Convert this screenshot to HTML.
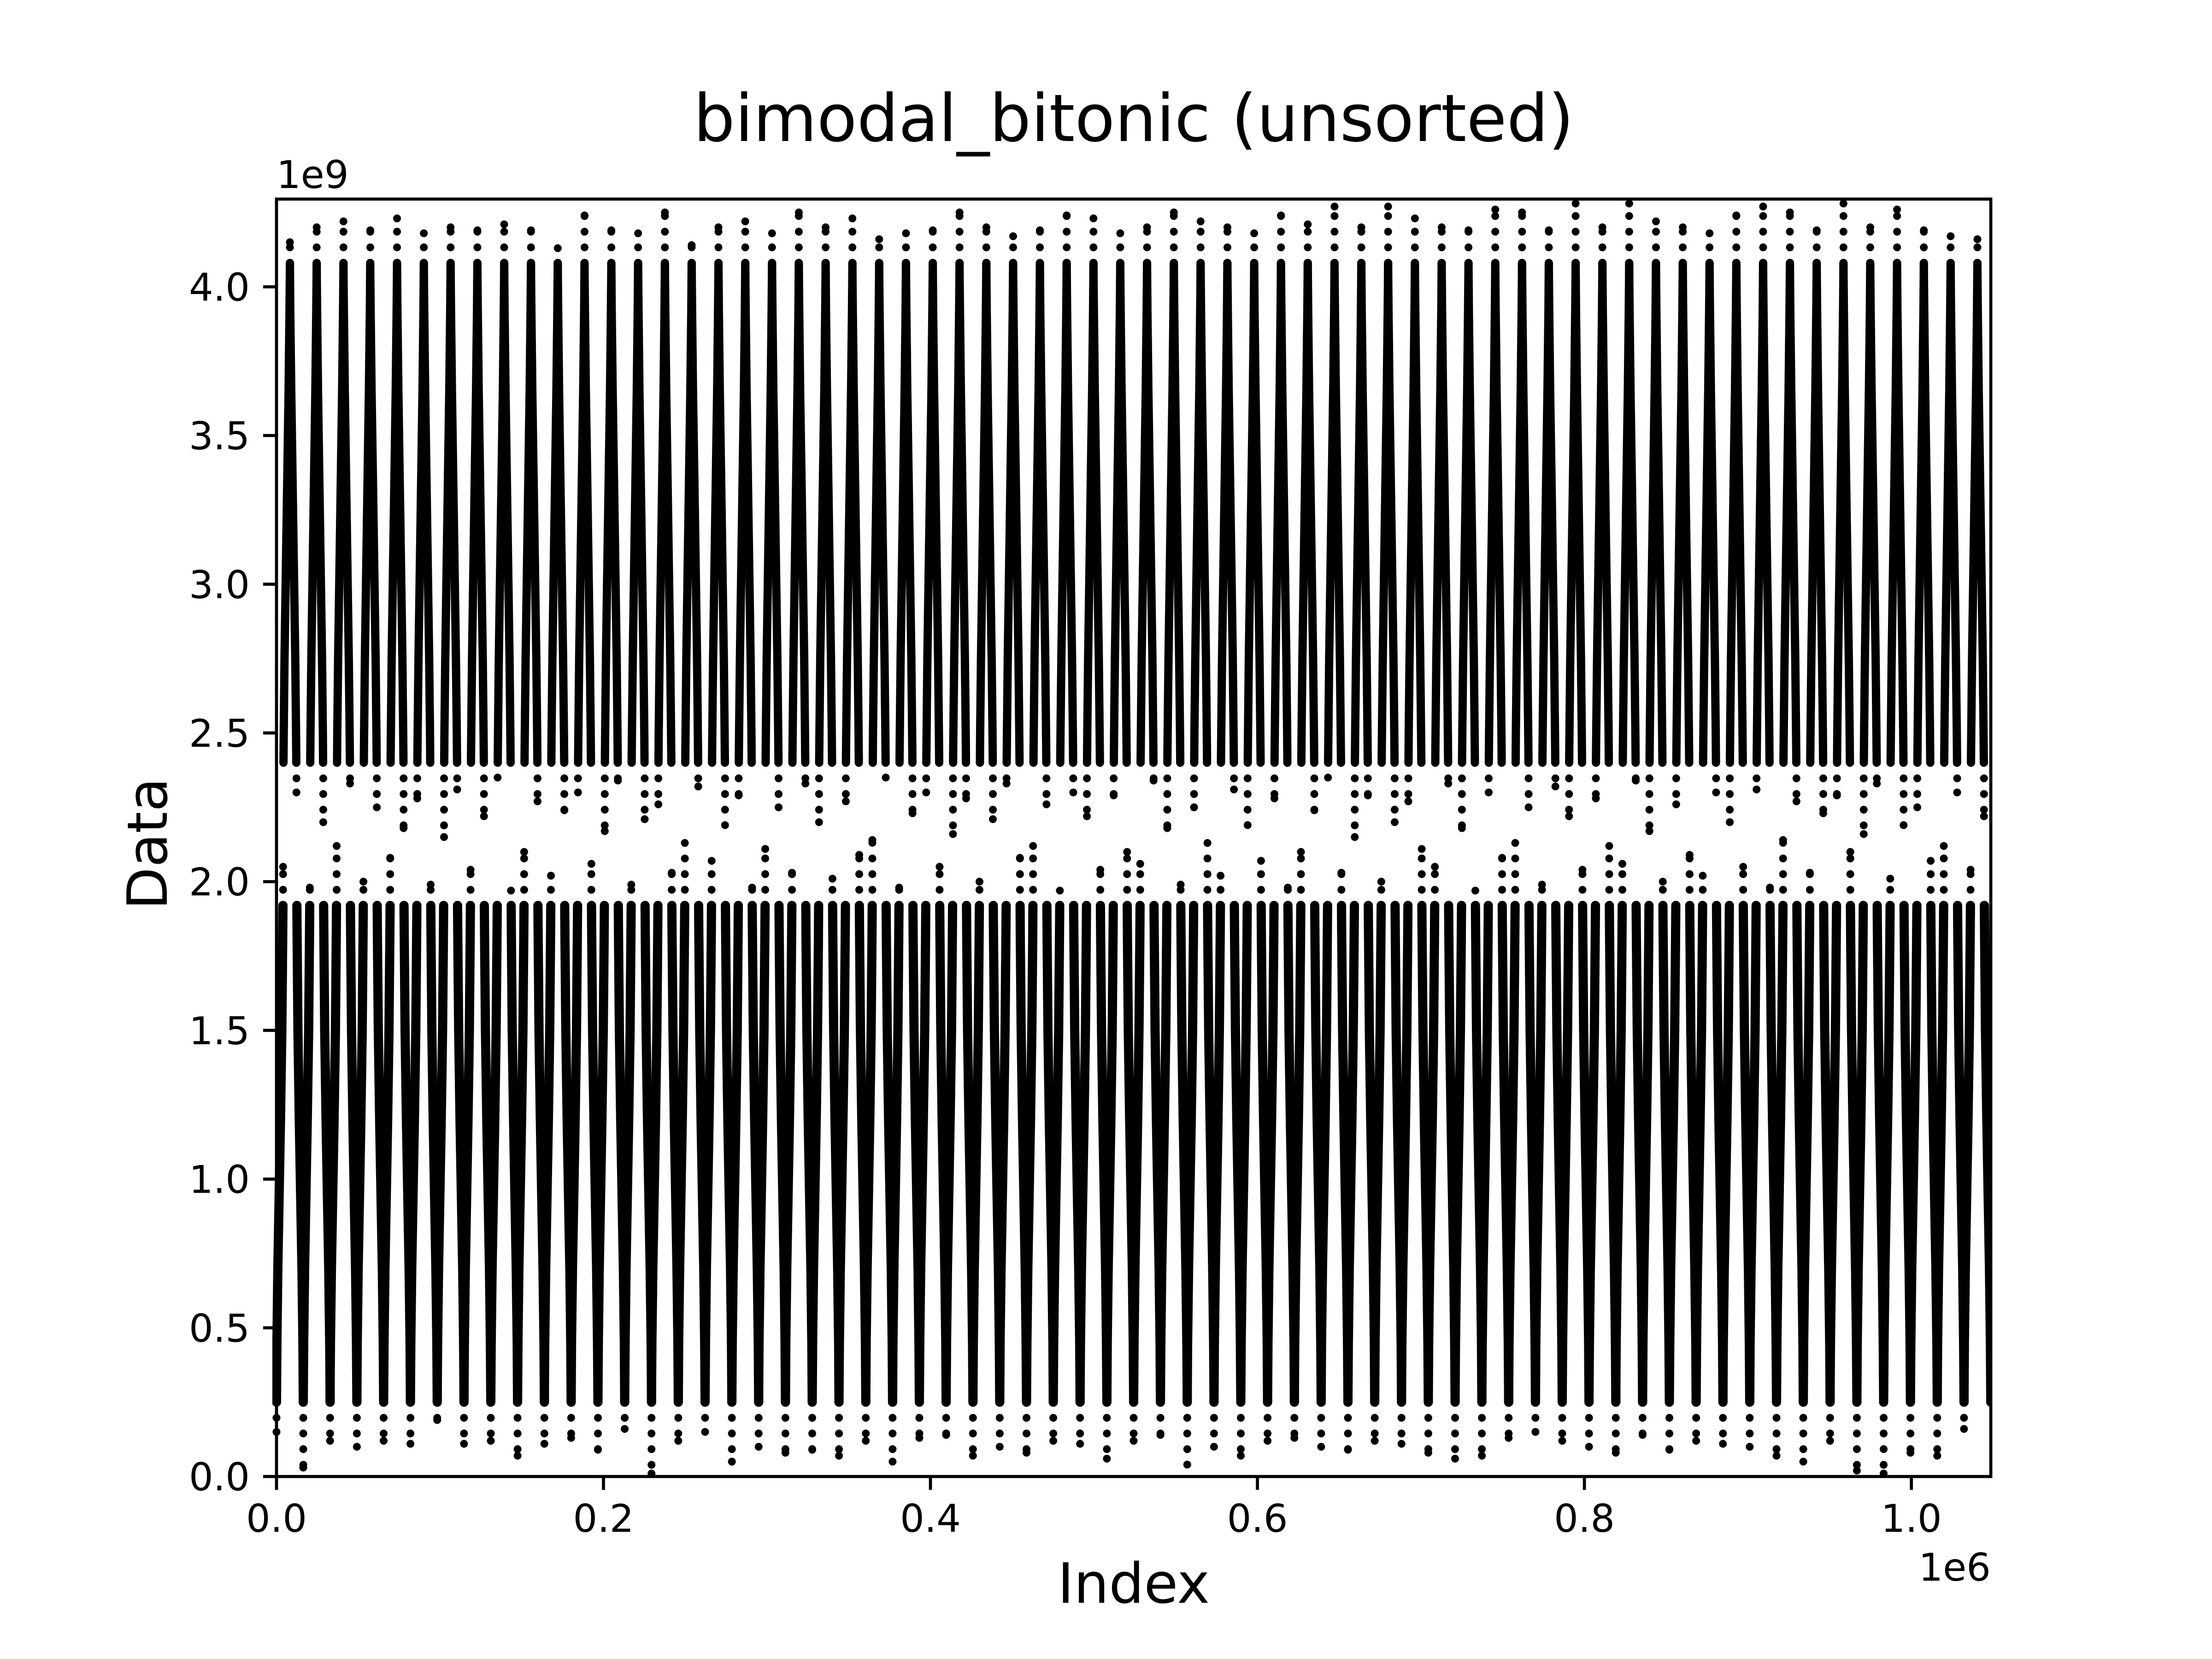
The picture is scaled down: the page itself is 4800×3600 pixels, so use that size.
<!DOCTYPE html>
<html><head><meta charset="utf-8">
<style>
html,body{margin:0;padding:0;background:#fff;}
svg{display:block;}
text{font-family:"DejaVu Sans","Liberation Sans",sans-serif;fill:#000;}
</style></head>
<body>
<svg id="chart" width="4800" height="3600" viewBox="0 0 4800 3600" xmlns="http://www.w3.org/2000/svg">
<rect x="0" y="0" width="4800" height="3600" fill="#fff"/>
<g id="plot"></g>
<g id="axes"></g>
<text x="2460" y="306" font-size="142" text-anchor="middle">bimodal_bitonic (unsorted)</text>
<text x="2460" y="3478" font-size="120" text-anchor="middle">Index</text>
<text transform="translate(362,1831) rotate(-90)" font-size="120" text-anchor="middle">Data</text>
<text x="600" y="408" font-size="83">1e9</text>
<text x="4320" y="3430" font-size="83" text-anchor="end">1e6</text>
</svg>
<script>
// ---- data ----
const periodCount = 64;
const periodLen = 16384;
const xMax = 1048576;
const yMax = 4294967296;
// quantile of the bimodal distribution within one half-period (t = fraction, v = value in 1e9)
const lowerT = [0, 0.01, 0.03, 0.1, 0.2, 0.3, 0.4, 0.46, 0.48];
const lowerV = [0.25, 0.32, 0.45, 0.7, 0.95, 1.2, 1.5, 1.8, 1.92];
const upperT = [0.52, 0.54, 0.6, 0.7, 0.8, 0.9, 0.97, 0.99, 1];
const upperV = [2.4, 2.5, 2.75, 3.05, 3.35, 3.65, 3.92, 4.02, 4.08];
// per-period sparse outliers (1e9)
const topOutliers = [4.15,4.2,4.22,4.19,4.23,4.18,4.2,4.19,4.21,4.19,4.13,4.24,4.19,4.18,4.25,4.14,4.2,4.22,4.18,4.25,4.2,4.23,4.16,4.18,4.19,4.25,4.2,4.17,4.19,4.24,4.23,4.18,4.2,4.25,4.22,4.2,4.18,4.24,4.21,4.27,4.2,4.27,4.23,4.2,4.19,4.26,4.25,4.19,4.28,4.2,4.28,4.22,4.2,4.18,4.24,4.27,4.25,4.19,4.28,4.2,4.26,4.19,4.17,4.16];
const bottomOutliers = [0.15,0.03,0.12,0.1,0.12,0.11,0.19,0.11,0.12,0.07,0.11,0.13,0.09,0.16,0.01,0.12,0.15,0.05,0.1,0.08,0.09,0.07,0.12,0.05,0.13,0.14,0.07,0.1,0.08,0.12,0.11,0.06,0.12,0.14,0.04,0.1,0.07,0.12,0.13,0.1,0.09,0.12,0.11,0.08,0.06,0.07,0.13,0.15,0.12,0.1,0.08,0.14,0.09,0.12,0.11,0.1,0.07,0.05,0.12,0.02,0.01,0.08,0.07,0.16];
// gap dots: [period, side (0 ascending / 1 descending), value 1e9]
const gapDots = [
[0,0,2.05],[0,1,2.3],[1,0,1.98],[1,1,2.2],[2,0,2.12],[2,1,2.33],[3,0,2.0],[3,1,2.25],[4,0,2.08],[4,1,2.18],
[5,0,2.28],[5,1,1.99],[6,0,2.15],[6,1,2.31],[7,0,2.04],[7,1,2.22],[8,0,2.35],[8,1,1.97],[9,0,2.1],[9,1,2.27],
[10,0,2.02],[10,1,2.24],[11,0,2.3],[11,1,2.06],[12,0,2.17],[12,1,2.34],[13,0,1.99],[13,1,2.21],[14,0,2.26],[14,1,2.03],
[15,0,2.13],[15,1,2.32],[16,0,2.07],[16,1,2.19],[17,0,2.29],[17,1,1.98],[18,0,2.11],[18,1,2.25],[19,0,2.03],[19,1,2.33],
[20,0,2.2],[20,1,2.01],[21,0,2.27],[21,1,2.09],[22,0,2.14],[22,1,2.35],[23,0,1.98],[23,1,2.23],[24,0,2.3],[24,1,2.05],
[25,0,2.16],[25,1,2.28],[26,0,2.0],[26,1,2.21],[27,0,2.33],[27,1,2.08],[28,0,2.12],[28,1,2.26],[29,0,1.97],[29,1,2.3],
[30,0,2.22],[30,1,2.04],[31,0,2.29],[31,1,2.1],[32,0,2.06],[32,1,2.34],[33,0,2.18],[33,1,1.99],[34,0,2.25],[34,1,2.13],
[35,0,2.02],[35,1,2.31],[36,0,2.19],[36,1,2.07],[37,0,2.28],[37,1,1.98],[38,0,2.1],[38,1,2.24],[39,0,2.35],[39,1,2.03],
[40,0,2.15],[40,1,2.29],[41,0,2.0],[41,1,2.2],[42,0,2.27],[42,1,2.11],[43,0,2.05],[43,1,2.33],[44,0,2.18],[44,1,1.97],
[45,0,2.3],[45,1,2.08],[46,0,2.13],[46,1,2.25],[47,0,1.99],[47,1,2.32],[48,0,2.22],[48,1,2.04],[49,0,2.28],[49,1,2.12],
[50,0,2.06],[50,1,2.34],[51,0,2.17],[51,1,2.0],[52,0,2.26],[52,1,2.09],[53,0,2.02],[53,1,2.3],[54,0,2.2],[54,1,2.05],
[55,0,2.31],[55,1,1.98],[56,0,2.14],[56,1,2.27],[57,0,2.03],[57,1,2.23],[58,0,2.29],[58,1,2.1],[59,0,2.16],[59,1,2.33],
[60,0,2.01],[60,1,2.19],[61,0,2.25],[61,1,2.07],[62,0,2.12],[62,1,2.3],[63,0,2.04],[63,1,2.22]
];
const xTicks = [0, 0.2, 0.4, 0.6, 0.8, 1.0];
const xTickLabels = ["0.0","0.2","0.4","0.6","0.8","1.0"];
const yTicks = [0, 0.5, 1.0, 1.5, 2.0, 2.5, 3.0, 3.5, 4.0];
const yTickLabels = ["0.0","0.5","1.0","1.5","2.0","2.5","3.0","3.5","4.0"];

// ---- layout ----
const L = 600, R = 4320, T = 432, B = 3204;
const NS = "http://www.w3.org/2000/svg";
function sx(i){ return L + (i / xMax) * (R - L); }
function sy(v){ return B - (v * 1e9 / yMax) * (B - T); }
const plot = document.getElementById('plot');
const axes = document.getElementById('axes');
function mk(tag, attrs, parent){
  const e = document.createElementNS(NS, tag);
  for (const k in attrs) e.setAttribute(k, attrs[k]);
  parent.appendChild(e);
  return e;
}
const clip = mk('clipPath', {id:'clipArea'}, document.getElementById('chart'));
mk('rect', {x:L-9, y:T, width:R-L+9, height:B-T+9}, clip);
plot.setAttribute('clip-path', 'url(#clipArea)');

const dotted = {fill:'none', stroke:'#000', 'stroke-width':17, 'stroke-linecap':'round', 'stroke-dasharray':'0 34'};
for (let k = 0; k < periodCount; k++) {
  const base = k * periodLen;
  const half = periodLen / 2;
  [[lowerT, lowerV, 'lower', 20], [upperT, upperV, 'upper', 18]].forEach(([ts, vs, nm, sw]) => {
    let asc = [], desc = [];
    for (let j = 0; j < ts.length; j++) {
      asc.push(sx(base + ts[j] * half).toFixed(1) + ',' + sy(vs[j]).toFixed(1));
      desc.push(sx(base + periodLen - ts[j] * half).toFixed(1) + ',' + sy(vs[j]).toFixed(1));
    }
    const pa = mk('polyline', {points: asc.join(' '), fill:'none', stroke:'#000', 'stroke-width':sw, 'stroke-linecap':'round', 'stroke-linejoin':'round'}, plot);
    
    
    const pd = mk('polyline', {points: desc.reverse().join(' '), fill:'none', stroke:'#000', 'stroke-width':sw, 'stroke-linecap':'round', 'stroke-linejoin':'round'}, plot);
    
    
  });
  const xPeak = sx(base + half);
  const tt = mk('line', Object.assign({x1:xPeak, x2:xPeak, y1:sy(upperV[upperV.length-1]), y2:sy(topOutliers[k])}, dotted), plot);
  
  
  const xv = sx(base);
  const bt = mk('line', Object.assign({x1:xv, x2:xv, y1:sy(lowerV[0]), y2:sy(bottomOutliers[k])}, dotted), plot);
  
  
  const top = mk('ellipse', {cx: xPeak, cy: sy(topOutliers[k]), rx: 8.5, ry: 8.5, fill:'#000'}, plot);
  
  
  const bot = mk('ellipse', {cx: xv, cy: sy(bottomOutliers[k]), rx: 8.5, ry: 8.5, fill:'#000'}, plot);
  
  
}
gapDots.forEach((g, i) => {
  const k = g[0], side = g[1], v = g[2];
  const base = k * periodLen, half = periodLen / 2;
  const t = v < 2.15 ? 0.49 : 0.51;
  const idx = side === 0 ? base + t * half : base + periodLen - t * half;
  const x = sx(idx);
  const from = v < 2.15 ? lowerV[lowerV.length-1] : upperV[0];
  const tl = mk('line', Object.assign({x1:x, x2:x, y1:sy(from), y2:sy(v)}, dotted), plot);
  
  
  const d = mk('ellipse', {cx: x, cy: sy(v), rx: 8.5, ry: 8.5, fill:'#000'}, plot);
  
  
});

// ---- axes ----
const frame = mk('rect', {x:L, y:T, width:R-L, height:B-T, fill:'none', stroke:'#000', 'stroke-width':6.7}, axes);


xTicks.forEach((v, i) => {
  const x = sx(v * 1e6);
  const tk = mk('line', {x1:x, x2:x, y1:B, y2:B+29, stroke:'#000', 'stroke-width':6.7}, axes);
  
  
  const tx = mk('text', {x:x, y:B+29+29+62, 'font-size':83, 'text-anchor':'middle'}, axes);
  tx.textContent = xTickLabels[i];
  
  
});
yTicks.forEach((v, i) => {
  const y = sy(v);
  const tk = mk('line', {x1:L-29, x2:L, y1:y, y2:y, stroke:'#000', 'stroke-width':6.7}, axes);
  
  
  const tx = mk('text', {x:L-29-29, y:y+30, 'font-size':83, 'text-anchor':'end'}, axes);
  tx.textContent = yTickLabels[i];
  
  
});
</script>
</body></html>
